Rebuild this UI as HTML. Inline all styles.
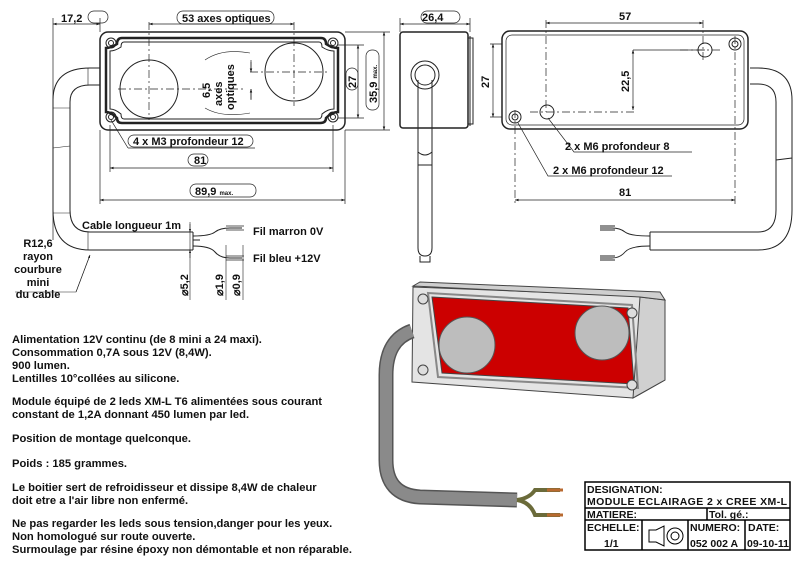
<!DOCTYPE html>
<html><head><meta charset="utf-8"><style>
html,body{margin:0;padding:0;background:#fff}
svg{display:block}
text{font-family:"Liberation Sans",Arial,sans-serif;font-weight:bold;fill:#111}
</style></head><body>
<svg width="800" height="561" viewBox="0 0 800 561" xmlns="http://www.w3.org/2000/svg">
<defs>
<marker id="a" viewBox="0 0 10 10" refX="10" refY="5" markerWidth="7" markerHeight="5" orient="auto-start-reverse"><path d="M0,1.5 L10,5 L0,8.5z" fill="#111"/></marker>
</defs>
<g fill="none" stroke="#222" stroke-width="1">
<rect x="100" y="32" width="245" height="98" rx="8" stroke-width="1.5"/>
<path d="M122,38 H321 Q326,38 326,44 Q332,48 338,48 V112 Q332,112 326,118 Q326,123 320,123 H122 Q117,123 117,118 Q111,112 106,112 V48 Q111,48 117,44 Q117,38 122,38z" stroke-width="2.5"/>
<path d="M124,42 H319 Q322,42 322,47 Q328,51 334,51 V109 Q328,109 322,114 Q322,119 318,119 H124 Q121,119 121,114 Q115,109 110,109 V51 Q115,51 121,47 Q121,42 124,42z" stroke-width="1"/>
<circle cx="149" cy="89" r="29"/><circle cx="294" cy="72" r="29"/>
<g stroke-width="1"><circle cx="111" cy="43" r="5"/><circle cx="111" cy="43" r="2.5"/><circle cx="333" cy="43" r="5"/><circle cx="333" cy="43" r="2.5"/><circle cx="111" cy="117" r="5"/><circle cx="111" cy="117" r="2.5"/><circle cx="333" cy="117" r="5"/><circle cx="333" cy="117" r="2.5"/></g>
<g stroke-dasharray="8,3,2,3" stroke-width=".7"><path d="M149,22 V120 M118,89 H245 M294,22 V106 M250,72 H330"/></g>
<path d="M205,60 Q222,48 250,53 M205,108 Q222,118 250,113" stroke-width=".6"/>
<g stroke-width=".7">
<path d="M53,18 V240 M100,18 V32" /><path d="M53,24 H100" marker-start="url(#a)" marker-end="url(#a)"/>
<path d="M149,24 H294" marker-start="url(#a)" marker-end="url(#a)"/>
<path d="M338,45 H364 M338,118 H364"/><path d="M358,45 V118" marker-start="url(#a)" marker-end="url(#a)"/>
<path d="M345,32 H390 M345,130 H390"/><path d="M384,32 V130" marker-start="url(#a)" marker-end="url(#a)"/>
<path d="M251,60 V72 M251,89 V100"/><path d="M251,62 V72" marker-end="url(#a)"/><path d="M251,99 V89" marker-end="url(#a)"/>
<path d="M333,125 V172 M110,125 V172"/><path d="M110,168 H333" marker-start="url(#a)" marker-end="url(#a)"/>
<path d="M100,130 V204 M345,130 V204"/><path d="M100,200 H345" marker-start="url(#a)" marker-end="url(#a)"/>
<path d="M128,148 H255 M128,148 L111,120" />
<rect x="177" y="11" width="97" height="13" rx="6"/><rect x="188" y="154" width="20" height="12" rx="6"/>
<rect x="190" y="184" width="66" height="13" rx="6"/><rect x="88" y="11" width="20" height="12" rx="6"/>
<rect x="346" y="68" width="12" height="22" rx="6"/><rect x="366" y="50" width="13" height="60" rx="6"/>
<rect x="128" y="135" width="125" height="12" rx="6"/>
</g>
<path d="M100,68 H90 Q53,68 53,100 V210 Q53,250 90,250 H193 M100,85 H90 Q70,85 70,102 V210 Q70,232 90,232 H193 M193,232 V250" stroke-width="1"/>
<path d="M53,148 L70,146 M88,68 V85 M53,108 H70 M53,213 H70 M88,232 V250" stroke-width=".6"/>
<path d="M193,236 Q210,236 215,232 T230,228 H242 M193,246 Q210,246 215,252 T230,258 H242 M193,240 H200" stroke-width="1"/>
<path d="M226,226 H244 M226,230 H244 M226,256 H244 M226,260 H244" stroke-width=".8"/>
<g stroke-width=".6"><path d="M190,222 V300 M226,245 V300 M243,245 V300 M76,292 L90,255 M15,292 H76"/><path d="M190,224 V232" marker-end="url(#a)"/><path d="M190,258 V250" marker-end="url(#a)"/><path d="M90,255 L76,292" marker-start="url(#a)"/></g>
<rect x="400" y="32" width="68" height="96" rx="3" stroke-width="1.5"/><path d="M470,36 V126 M468,38 H473 V124 H468"/>
<circle cx="425" cy="75" r="14"/><circle cx="425" cy="75" r="10"/>
<path d="M418,80 V248 Q418,256 425,256 Q432,256 432,248 V80 M418,152 Q425,158 432,152 M418,165 H432 M420,256 V262 H430 V256" stroke-width="1"/>
<g stroke-width=".7"><path d="M400,18 V32 M470,18 V32"/><path d="M400,24 H470" marker-start="url(#a)" marker-end="url(#a)"/><rect x="421" y="11" width="39" height="12" rx="6"/></g>
<rect x="502" y="31" width="246" height="98" rx="8" stroke-width="1.5"/><rect x="506" y="35" width="238" height="90" rx="6" stroke-width=".7"/>
<circle cx="705" cy="50" r="7"/><circle cx="735" cy="44" r="6"/><circle cx="735" cy="44" r="3"/>
<circle cx="547" cy="112" r="7"/><circle cx="515" cy="117" r="6"/><circle cx="515" cy="117" r="3"/>
<path d="M750,68 H758 Q792,68 792,100 V210 Q792,250 758,250 H650 M750,84 H758 Q776,84 776,102 V210 Q776,232 758,232 H650 M650,232 V250 M776,160 L792,158" stroke-width="1"/>
<path d="M650,236 Q630,236 625,232 T612,228 H600 M650,246 Q630,246 625,252 T612,258 H600 M600,226 H615 M600,230 H615 M600,256 H615 M600,260 H615" stroke-width=".9"/>
<g stroke-width=".7" stroke-dasharray="8,3,2,3"><path d="M546,20 V112 M530,112 H635 M703,20 V62 M680,50 H720 M735,36 V205 M515,110 V205"/></g>
<g stroke-width=".7"><path d="M546,23 H703" marker-start="url(#a)" marker-end="url(#a)"/>
<path d="M490,44 H502 M490,117 H502"/><path d="M493,44 V117" marker-start="url(#a)" marker-end="url(#a)"/>
<path d="M633,50 V110" marker-start="url(#a)" marker-end="url(#a)"/><path d="M633,50 H705"/>
<path d="M515,200 H735" marker-start="url(#a)" marker-end="url(#a)"/>
<path d="M548,118 L574,152 H692 M518,123 L548,176 H672"/></g>
</g>
<g stroke="#444" stroke-width="1">
<path d="M413,287 L640,296 L665,300 L665,380 L633,398 L412,382z" fill="#e4e4e4"/>
<path d="M640,297 L665,300 L665,380 L633,398z" fill="#d0d0d0"/>
<path d="M413,286 L420,282 L660,292 L665,300 L640,297z" fill="#cfcfcf"/>
<path d="M432,297 L628,308 L634,384 L442,373z" fill="#cc0000"/>
<path d="M428,293 L632,305 L638,388 L438,377z" fill="none" stroke="#888" stroke-width="2"/>
<circle cx="467" cy="345" r="28" fill="#bdbdbd" stroke="#555"/><circle cx="602" cy="333" r="27" fill="#bdbdbd" stroke="#555"/>
<circle cx="423" cy="299" r="5" fill="#ddd"/><circle cx="632" cy="313" r="5" fill="#ddd"/><circle cx="423" cy="370" r="5" fill="#ddd"/><circle cx="632" cy="385" r="5" fill="#ddd"/>
</g>
<path d="M412,331 Q386,340 386,375 V460 Q386,495 420,497 L517,500" fill="none" stroke="#555" stroke-width="15"/>
<path d="M412,331 Q386,340 386,375 V460 Q386,495 420,497 L517,500" fill="none" stroke="#8a8a8a" stroke-width="12"/>
<path d="M517,500 Q530,498 535,490 H560 M517,500 Q530,502 535,515 H560" fill="none" stroke="#6b6b3a" stroke-width="4"/>
<path d="M547,490 H563 M547,515 H563" stroke="#b86a30" stroke-width="3"/>
<g fill="none" stroke="#000" stroke-width="1.5">
<rect x="585" y="482" width="205" height="68"/><path d="M585,508 H790 M585,520 H790 M707,508 V520 M642,520 V550 M688,520 V550 M745,520 V550"/>
<path d="M649,530 H656 L664,526 V546 L656,542 H649z" stroke-width="1"/><circle cx="675" cy="536" r="8" stroke-width="1"/><circle cx="675" cy="536" r="4" stroke-width="1"/>
</g>
<g font-size="10.5">
<text x="587" y="493">DESIGNATION:</text><text x="587" y="505" textLength="200">MODULE ECLAIRAGE 2 x CREE XM-L</text>
<text x="587" y="518">MATIERE:</text><text x="709" y="518">Tol. gé.:</text>
<text x="587" y="531">ECHELLE:</text><text x="604" y="547">1/1</text>
<text x="690" y="531">NUMERO:</text><text x="690" y="547">052 002 A</text>
<text x="748" y="531">DATE:</text><text x="747" y="547" textLength="42">09-10-11</text>
</g>
<g font-size="11">
<text x="61" y="22">17,2</text><text x="182" y="22">53 axes optiques</text><text x="194" y="164">81</text>
<text x="195" y="195">89,9 <tspan font-size="6">max.</tspan></text><text x="133" y="145">4 x M3 profondeur 12</text>
<text x="82" y="229">Cable longueur 1m</text><text x="253" y="235">Fil marron 0V</text><text x="253" y="262">Fil bleu +12V</text>
<text x="38" y="247" text-anchor="middle">R12,6</text><text x="38" y="260" text-anchor="middle">rayon</text><text x="38" y="273" text-anchor="middle">courbure</text><text x="38" y="286" text-anchor="middle">mini</text><text x="38" y="298" text-anchor="middle">du cable</text>
<text x="422" y="21">26,4</text><text x="619" y="20">57</text><text x="619" y="196">81</text>
<text x="565" y="150">2 x M6 profondeur 8</text><text x="553" y="174">2 x M6 profondeur 12</text>
<text transform="translate(356,88) rotate(-90)">27</text><text transform="translate(377,103) rotate(-90)">35,9 <tspan font-size="6">max.</tspan></text>
<text transform="translate(210,98) rotate(-90)">6,5</text><text transform="translate(222,106) rotate(-90)">axes</text><text transform="translate(234,110) rotate(-90)">optiques</text>
<text transform="translate(489,88) rotate(-90)">27</text><text transform="translate(629,92) rotate(-90)">22,5</text>
<text transform="translate(188,296) rotate(-90)" font-weight="normal">⌀5,2</text><text transform="translate(223,296) rotate(-90)" font-weight="normal">⌀1,9</text><text transform="translate(240,296) rotate(-90)" font-weight="normal">⌀0,9</text>
</g>
<g font-size="11.2">
<text x="12" y="343">Alimentation 12V continu (de 8 mini a 24 maxi).</text>
<text x="12" y="356">Consommation 0,7A sous 12V (8,4W).</text>
<text x="12" y="369">900 lumen.</text>
<text x="12" y="382">Lentilles 10°collées au silicone.</text>
<text x="12" y="405">Module équipé de 2 leds XM-L T6 alimentées sous courant</text>
<text x="12" y="418">constant de 1,2A  donnant 450 lumen par led.</text>
<text x="12" y="442">Position de montage quelconque.</text>
<text x="12" y="467">Poids : 185 grammes.</text>
<text x="12" y="491">Le boitier sert de refroidisseur et dissipe 8,4W de chaleur</text>
<text x="12" y="504">doit etre a l'air libre non enfermé.</text>
<text x="12" y="527">Ne pas regarder les leds sous tension,danger pour les yeux.</text>
<text x="12" y="540">Non homologué sur route ouverte.</text>
<text x="12" y="553" textLength="340">Surmoulage par résine époxy non démontable et non réparable.</text>
</g>
</svg>
</body></html>
